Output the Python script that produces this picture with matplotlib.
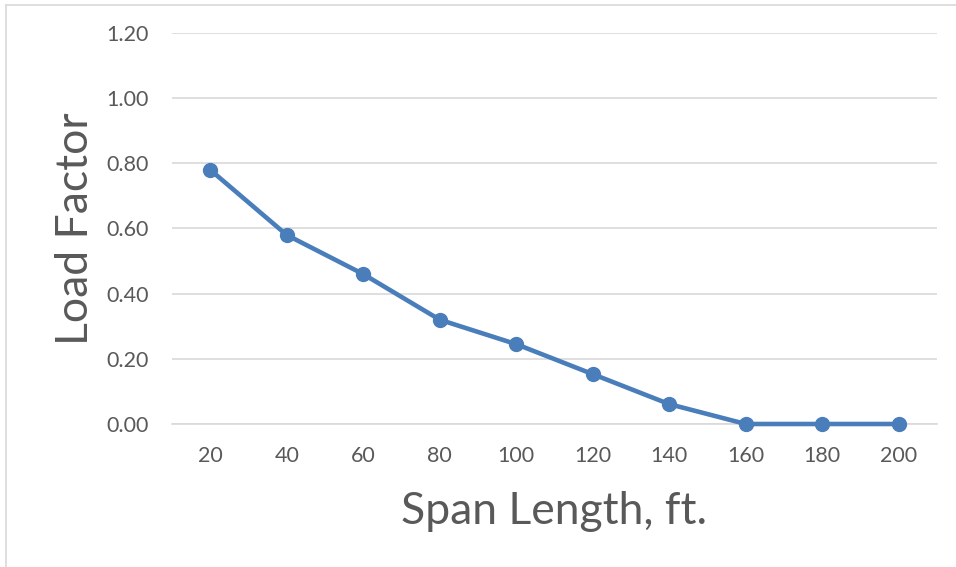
import numpy as np
import matplotlib.pyplot as plt

# data
span_ft = ["20", "40", "60", "80", "100", "120", "140", "160", "180", "200"]
load_factor = [0.78, 0.58, 0.46, 0.32, 0.245, 0.153, 0.061, 0.0, 0.0, 0.0]
y_ticks = [0.0, 0.2, 0.4, 0.6, 0.8, 1.0, 1.2]

plt.rcParams['font.family'] = ['Lato', 'DejaVu Sans']

W, H = 956, 567
fig = plt.figure(figsize=(W / 100, H / 100), dpi=100)
ax = fig.add_axes([172 / W, 1 - 424 / H, (937 - 172) / W, (424 - 33) / H])

x = np.arange(len(span_ft))
ax.plot(x, load_factor, color='#4A7EBB', lw=3.3, marker='o', ms=10,
        solid_capstyle='round', zorder=3, clip_on=False)

ax.set_xlim(-0.5, len(span_ft) - 0.5)
ax.set_ylim(0, 1.2)
ax.set_xticks(x)
ax.set_xticklabels(span_ft)
ax.set_yticks(y_ticks)
ax.set_yticklabels([f"{v:.2f}" for v in y_ticks])
ax.tick_params(length=0, labelsize=15.5, colors='#595959')
ax.tick_params(axis='x', pad=16)
ax.tick_params(axis='y', pad=17)

ax.grid(axis='y', color='#D9D9D9', lw=1.2)
ax.set_axisbelow(True)
for s in ['top', 'right', 'left']:
    ax.spines[s].set_visible(False)
ax.spines['bottom'].set_color('#D9D9D9')
ax.spines['bottom'].set_linewidth(1.2)

fig.text((172 + 937) / 2 / W, 1 - 511 / H, "Span Length, ft.", ha='center',
         va='center', fontsize=32, color='#595959')
fig.text(76 / W, 1 - 229 / H, "Load Factor", ha='center', va='center',
         rotation=90, fontsize=32, color='#595959')

# chart frame (left and top edges visible)
fig.add_artist(plt.Line2D([6 / W, 6 / W], [0, 1 - 5 / H], color='#D9D9D9', lw=1.2))
fig.add_artist(plt.Line2D([6 / W, 1], [1 - 5 / H, 1 - 5 / H], color='#D9D9D9', lw=1.2))

fig.savefig("out.png", dpi=100)
